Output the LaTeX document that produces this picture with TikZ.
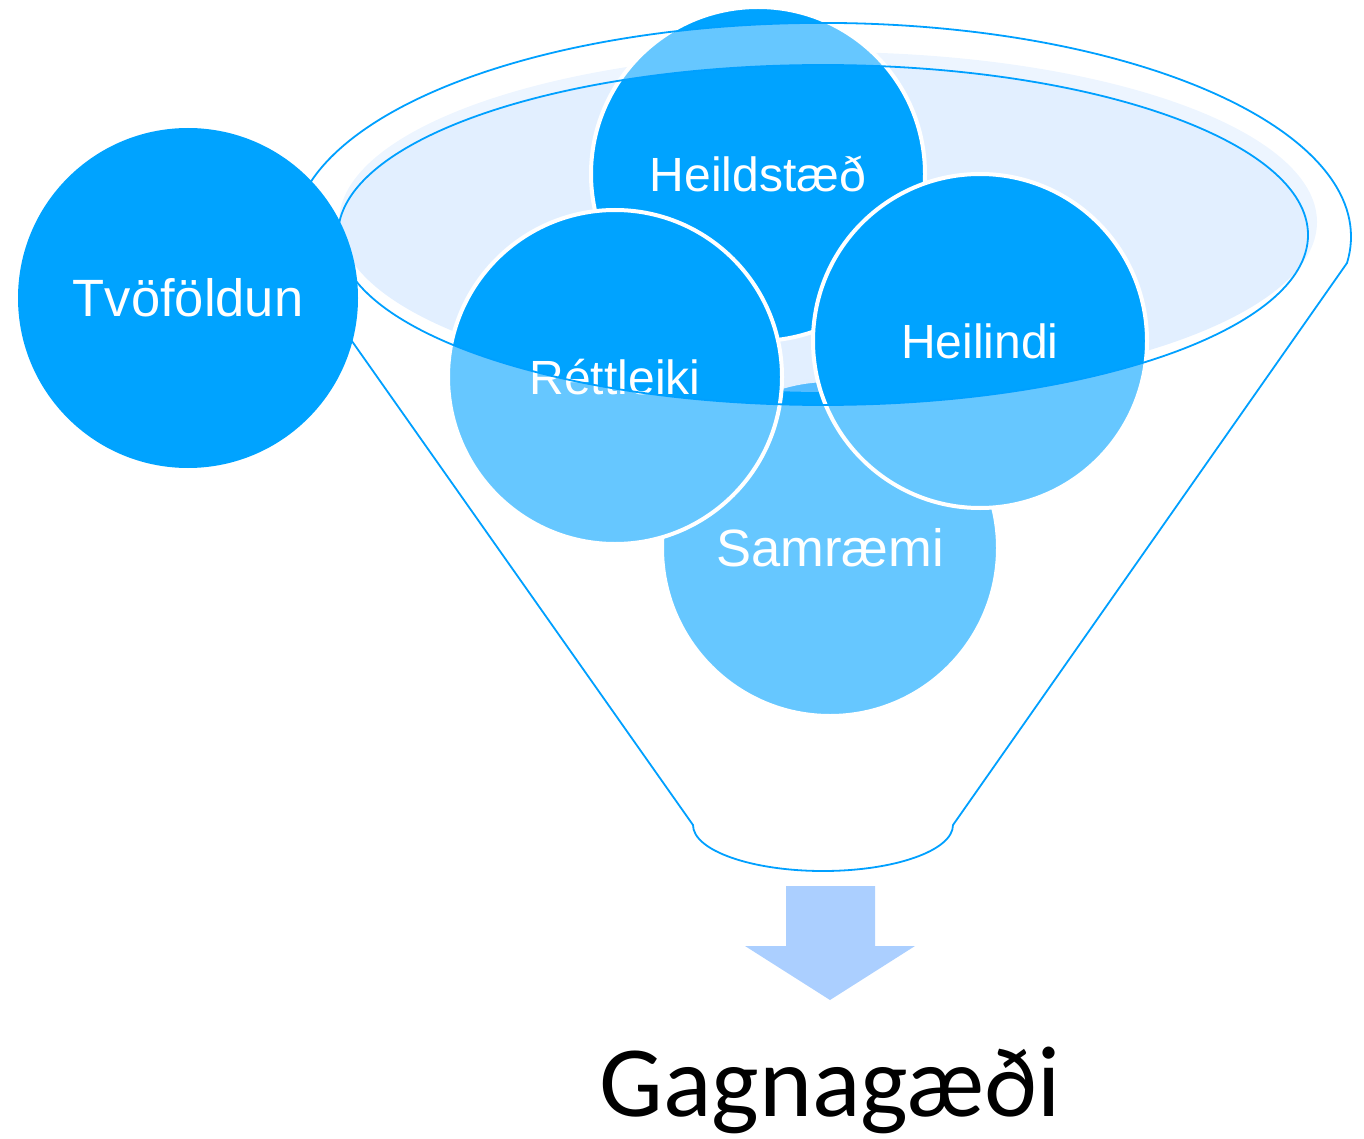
\documentclass[tikz,border=0pt]{standalone}
\usepackage{fontspec}
\newfontfamily\ballfont{Liberation Sans}
\newfontfamily\titlefont{Carlito}

\definecolor{balldark}{HTML}{00A3FF}
\definecolor{funnelline}{HTML}{00A0FF}
\definecolor{mouthfill}{RGB}{190,220,255}
\definecolor{arrowblue}{HTML}{ABCFFF}

\tikzset{
  ball/.style={circle, fill=balldark, draw=white, line width=4pt,
    minimum size=334pt, inner sep=0pt, text=white,
    font=\ballfont\fontsize{48}{56}\selectfont},
  bigball/.style={ball, font=\ballfont\fontsize{52.5}{60}\selectfont},
  funnel/.style={draw=funnelline, line width=1.8pt, fill=white,
    fill opacity=0.4, even odd rule},
}

\begin{document}
\begin{tikzpicture}[x=1pt, y=-1pt]
  \useasboundingbox (0,0) rectangle (1364,1139);

  % the ball below the mouth goes first, the mouth tint lies over it
  \node[bigball, minimum size=336pt] (samr) at (830,548) {Samræmi};
  \fill[mouthfill, opacity=0.45] (828,222) ellipse [x radius=489, y radius=170];
  \node[ball] (heild) at (758,174) {Heildstæð};
  \node[ball] (rett) at (615,377) {Réttleiki};
  \node[ball] (heil) at (980,341) {Heilindi};

  % funnel body, with the mouth left open
  \path[funnel] (1347,263)
      arc [start angle=7, end angle=-187, x radius=529, y radius=214]
      -- (693,825)
      arc [start angle=180, end angle=0, x radius=130, y radius=46]
      -- cycle
    (823,235) ellipse [x radius=485, y radius=170];

  \node[bigball, draw=none, minimum size=340pt] (tvo) at (188,298) {Tvöföldun};

  % arrow out of the spout
  \fill[arrowblue] (786,886) -- (875,886) -- (875,946) -- (915,946)
    -- (830,1000) -- (745,946) -- (786,946) -- cycle;
  \node[anchor=base, inner sep=0pt, font=\titlefont\fontsize{101}{112}\selectfont]
    (quality) at (830,1116) {Gagnagæði};
\end{tikzpicture}
\end{document}
